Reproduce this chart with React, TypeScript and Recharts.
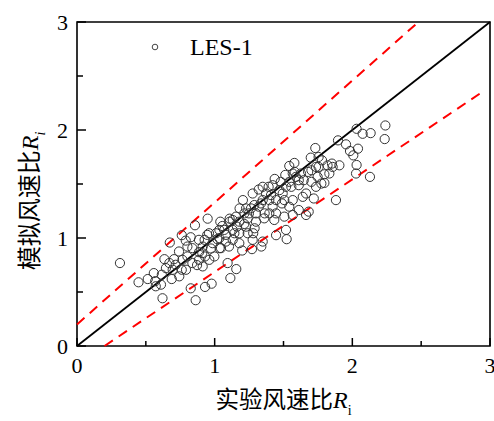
import React from 'react';
import { ScatterChart, Scatter, XAxis, YAxis, ReferenceLine, ReferenceArea, Legend } from 'recharts';

// Experimental wind speed ratio (x) and simulated wind speed ratio (y)
const experimentR = [
  0.312, 0.447, 0.514, 0.558, 0.568, 0.572, 0.621, 0.616, 0.61, 0.635,
  0.674, 0.688, 0.705, 0.741, 0.761, 0.761, 0.79, 0.802, 0.826, 0.826,
  0.862, 0.857, 0.872, 0.886, 0.93, 0.949, 0.978, 0.959, 0.927, 0.93,
  0.973, 1.019, 1.036, 1.041, 1.056, 1.094, 1.114, 1.157, 1.109, 1.104,
  1.143, 1.162, 1.181, 1.2, 1.205, 1.215, 1.249, 1.271, 1.28, 1.29,
  1.276, 1.32, 1.32, 1.339, 1.349, 1.349, 1.363, 1.373, 1.392, 1.436,
  1.421, 1.433, 1.446, 1.446, 1.489, 1.494, 1.513, 1.518, 1.523, 1.542,
  1.557, 1.567, 1.567, 1.579, 1.581, 1.611, 1.611, 1.647, 1.664, 1.664,
  1.683, 1.679, 1.698, 1.72, 1.731, 1.736, 1.748, 1.775, 1.78, 1.797,
  1.852, 1.881, 1.896, 1.906, 1.954, 1.983, 2.007, 2.027, 2.031, 2.041,
  2.031, 2.075, 2.128, 2.133, 2.235, 2.24,
  0.646, 0.671, 0.717, 0.766, 0.802, 0.838, 0.886, 0.91, 0.985, 1.01,
  1.034, 1.07, 1.082, 1.131, 1.179, 1.216, 1.24, 1.264, 1.3, 1.336,
  1.397, 1.409, 1.47, 1.518, 1.542, 1.59, 1.627, 1.703, 1.755, 1.82,
  1.857, 1.797, 1.703, 1.755, 1.611, 1.506, 1.397, 1.3, 1.24, 1.179,
  1.131, 1.046, 0.998, 0.961, 0.913, 0.792, 0.743, 0.695, 0.838, 0.886,
  0.946, 1.034, 1.109, 1.131, 1.155, 1.228, 1.288, 1.349, 1.421, 1.48,
  1.567, 0.913, 1.082, 1.179, 1.276, 1.228, 1.36, 1.446, 1.506, 1.542,
  1.64, 1.736, 1.833,
];
const simulatedR = [
  0.768, 0.59, 0.62, 0.675, 0.6, 0.553, 0.442, 0.66, 0.568, 0.804,
  0.958, 0.62, 0.804, 0.875, 1.026, 0.706, 0.976, 0.921, 1.007, 0.534,
  0.424, 1.118, 0.749, 0.869, 0.547, 1.179, 0.577, 1.044, 0.983, 0.829,
  0.903, 0.989, 0.906, 1.151, 1.111, 0.768, 0.629, 0.712, 1.179, 0.921,
  1.044, 1.105, 1.274, 0.884, 1.351, 1.13, 1.228, 0.897, 1.044, 1.09,
  1.412, 1.449, 1.29, 0.921, 0.967, 1.351, 1.228, 1.412, 1.474, 1.547,
  1.29, 1.167, 1.026, 1.351, 1.32, 1.412, 1.584, 1.075, 0.989, 1.667,
  1.474, 1.351, 1.213, 1.695, 1.612, 1.535, 1.259, 1.535, 1.412, 1.213,
  1.244, 1.612, 1.744, 1.366, 1.833, 1.658, 1.566, 1.504, 1.719, 1.59,
  1.689, 1.351, 1.904, 1.673, 1.867, 1.805, 1.765, 1.597, 1.676, 1.827,
  2.011, 1.965, 1.566, 1.971, 1.916, 2.042,
  0.721, 0.768, 0.752, 0.798, 0.829, 0.768, 0.798, 0.86, 0.952, 1.044,
  0.998, 1.075, 1.029, 1.075, 1.151, 1.228, 1.182, 1.274, 1.228, 1.32,
  1.351, 1.397, 1.443, 1.474, 1.52, 1.566, 1.597, 1.627, 1.658, 1.673,
  1.658, 1.51, 1.52, 1.75, 1.489, 1.198, 1.228, 1.151, 1.044, 1.044,
  0.983, 0.906, 0.829, 0.798, 0.737, 0.706, 0.645, 0.706, 0.906, 0.983,
  1.029, 1.075, 1.151, 1.167, 1.198, 1.274, 1.305, 1.474, 1.489, 1.52,
  1.597, 0.921, 0.967, 0.952, 0.983, 1.105, 1.182, 1.228, 1.351, 1.29,
  1.381, 1.474, 1.597,
];

const axisTicks = [0, 0.5, 1, 1.5, 2, 2.5, 3];
const majorTickLabels = ['0', '1', '2', '3'];
const seriesName = 'LES-1';

const perfectLine = [{ x: 0, y: 0 }, { x: 3, y: 3 }];
const upperBound = [{ x: 0, y: 0.2 }, { x: 2.48, y: 3 }];
const lowerBound = [{ x: 0.2, y: 0 }, { x: 2.93, y: 2.34 }];

const points = experimentR.map((x, i) => ({ x, y: simulatedR[i] }));

const SERIF = '"Liberation Serif", "Times New Roman", serif';
const CJK = '"Noto Sans CJK SC", sans-serif';

const labelFor = (v: number) => {
  const idx = [0, 1, 2, 3].indexOf(v);
  return idx >= 0 ? majorTickLabels[idx] : null;
};

const XTick = (props: any) => {
  const { x, y, payload } = props;
  const lab = labelFor(payload.value);
  return (
    <g>
      <line x1={x} x2={x} y1={y} y2={y - (lab !== null ? 8 : 5)} stroke="#000" strokeWidth={1.5} />
      {lab !== null && (
        <text x={x} y={y + 27} textAnchor="middle" fontFamily={SERIF} fontSize={22} fill="#000">{lab}</text>
      )}
    </g>
  );
};

const YTick = (props: any) => {
  const { x, y, payload } = props;
  const lab = labelFor(payload.value);
  return (
    <g>
      <line x1={x} x2={x + (lab !== null ? 9 : 6)} y1={y} y2={y} stroke="#000" strokeWidth={1.5} />
      {lab !== null && (
        <text x={x - 9} y={y} dy="0.35em" textAnchor="end" fontFamily={SERIF} fontSize={22} fill="#000">{lab}</text>
      )}
    </g>
  );
};

const XTitle = (props: any) => {
  const vb = props.viewBox || { x: 77, y: 346, width: 413 };
  const cx = vb.x + vb.width / 2;
  const by = vb.y + 62;
  return (
    <text x={cx} y={by} textAnchor="middle" fill="#000">
      <tspan fontFamily={CJK} fontSize={23.5}>实验风速比</tspan>
      <tspan fontFamily={SERIF} fontStyle="italic" fontSize={24}>R</tspan>
      <tspan fontFamily={SERIF} fontSize={14} dy={7}>i</tspan>
    </text>
  );
};

const YTitle = () => {
  const cx = 38;
  const cy = 201;
  return (
    <text x={cx} y={cy} textAnchor="middle" fill="#000" transform={`rotate(-90 ${cx} ${cy})`}>
      <tspan fontFamily={CJK} fontSize={24}>模拟风速比</tspan>
      <tspan fontFamily={SERIF} fontStyle="italic" fontSize={24}>R</tspan>
      <tspan fontFamily={SERIF} fontStyle="italic" fontSize={14} dy={7}>i</tspan>
    </text>
  );
};

const OpenCircle = (props: any) => {
  const { cx, cy } = props;
  if (cx == null || cy == null) return null;
  return <circle cx={cx} cy={cy} r={4.6} fill="none" stroke="#333" strokeWidth={1} />;
};

const LegendContent = () => (
  <div style={{ display: 'flex', alignItems: 'center', fontFamily: SERIF, fontSize: 24, lineHeight: '24px', color: '#000', whiteSpace: 'nowrap' }}>
    <svg width={8} height={8} style={{ display: 'block' }}>
      <circle cx={4} cy={4} r={2.8} fill="none" stroke="#444" strokeWidth={1} />
    </svg>
    <span style={{ marginLeft: 31 }}>{seriesName}</span>
  </div>
);

export default function App() {
  return (
    <div style={{ position: 'absolute', left: 0, top: 0, width: 494, height: 421, background: '#fff' }}>
      <ScatterChart width={494} height={421} margin={{ top: 22, right: 4, bottom: 15, left: 17 }}>
        <XAxis
          type="number"
          dataKey="x"
          domain={[0, 3]}
          ticks={axisTicks}
          interval={0}
          allowDataOverflow
          height={60}
          tickSize={0}
          tickMargin={0}
          tickLine={false}
          axisLine={false}
          tick={<XTick />}
          label={<XTitle />}
        />
        <YAxis
          type="number"
          dataKey="y"
          domain={[0, 3]}
          ticks={axisTicks}
          interval={0}
          allowDataOverflow
          width={60}
          tickSize={0}
          tickMargin={0}
          tickLine={false}
          axisLine={false}
          tick={<YTick />}
          label={<YTitle />}
        />
        <ReferenceArea x1={0} x2={3} y1={0} y2={3} fill="none" fillOpacity={0} stroke="#000" strokeWidth={1.6} ifOverflow="visible" />
        <ReferenceLine segment={upperBound} stroke="#ff0000" strokeWidth={2} strokeDasharray="10 7" ifOverflow="visible" />
        <ReferenceLine segment={lowerBound} stroke="#ff0000" strokeWidth={2} strokeDasharray="10 7" ifOverflow="visible" />
        <ReferenceLine segment={perfectLine} stroke="#000" strokeWidth={1.8} ifOverflow="visible" />
        <Scatter name={seriesName} data={points} shape={<OpenCircle />} isAnimationActive={false} />
        <Legend
          layout="vertical"
          align="center"
          verticalAlign="middle"
          wrapperStyle={{ top: 35, left: 151, width: 'auto', height: 'auto' }}
          content={<LegendContent />}
        />
      </ScatterChart>
    </div>
  );
}
